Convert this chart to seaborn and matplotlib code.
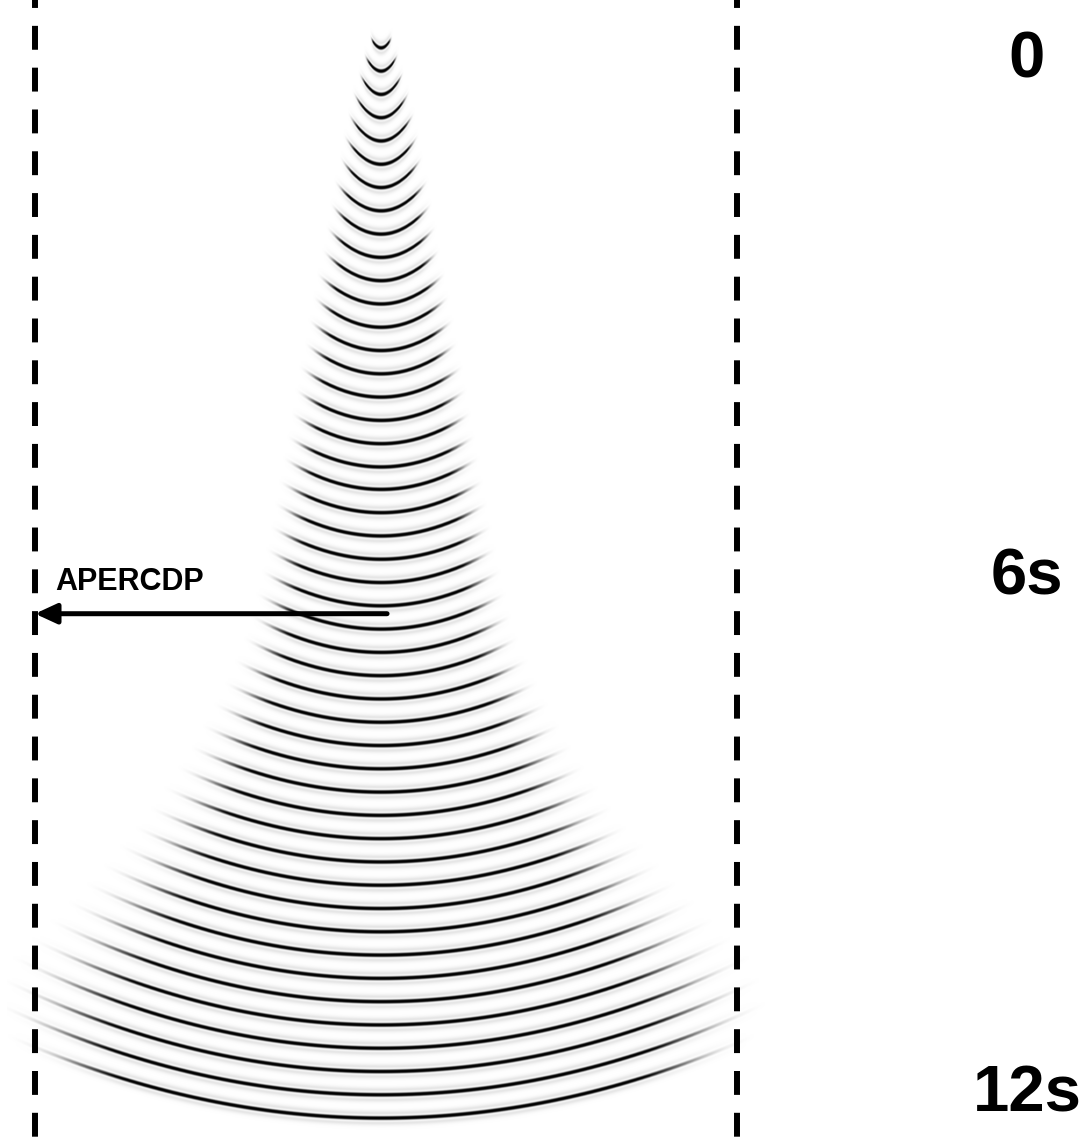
import numpy as np
import matplotlib
matplotlib.use("Agg")
import matplotlib.pyplot as plt
import seaborn as sns

sns.set_theme(style="white")
plt.rcParams['font.family'] = ['Liberation Sans', 'DejaVu Sans']

# apex time of each impulse-response arc (s)
apex_t = [-0.14, 0.13, 0.40, 0.67, 0.94, 1.21, 1.48, 1.75, 2.02, 2.29,
          2.56, 2.83, 3.10, 3.37, 3.64, 3.91, 4.18, 4.45, 4.72, 4.98,
          5.25, 5.52, 5.79, 6.06, 6.33, 6.60, 6.87, 7.14, 7.41, 7.68,
          7.95, 8.22, 8.49, 8.76, 9.03, 9.30, 9.57, 9.84, 10.11, 10.38,
          10.65, 10.92, 11.19, 11.46, 11.73, 12.00, 12.27]
# half width of each arc (CDP)
half_width = [3.0, 4.6, 6.0, 7.6, 8.9, 10.0, 11.0, 12.5, 13.5, 14.6,
              15.6, 17.1, 18.1, 19.3, 20.3, 21.8, 22.8, 23.9, 25.0, 26.1,
              27.2, 28.3, 29.4, 30.6, 31.8, 33.2, 34.7, 36.5, 39.0, 41.6,
              44.4, 47.6, 50.7, 54.1, 57.8, 61.5, 65.5, 69.8, 74.1, 78.6,
              83.5, 88.3, 93.4, 98.3, 101.1, 102.6, 99.7]
# how much earlier the arc ends are than its apex (s)
end_rise = [0.12, 0.18, 0.23, 0.27, 0.29, 0.30, 0.31, 0.31, 0.31, 0.31,
            0.31, 0.31, 0.31, 0.31, 0.31, 0.31, 0.31, 0.31, 0.31, 0.32,
            0.32, 0.33, 0.33, 0.34, 0.35, 0.36, 0.37, 0.38, 0.39, 0.40,
            0.42, 0.44, 0.46, 0.49, 0.52, 0.55, 0.59, 0.64, 0.68, 0.73,
            0.78, 0.83, 0.88, 0.93, 0.94, 0.93, 0.84]

center_cdp = 498.5
aper_cdp = [400, 600]
time_labels = ["0", "6s", "12s"]
time_label_t = [0, 6, 12]
arrow_t = 6.42

t_top, t_bot = -0.696, 12.557
x_left, x_right = 390.03, 700.28

# build the image
cdp = np.arange(392, 608, 0.25)
t = np.arange(-0.6, 12.6, 0.004)
X, T = np.meshgrid(cdp, t)
img = np.zeros_like(X)
freq = 6.8
for t0, w, e in zip(apex_t, half_width, end_rise):
    dx = (X - center_cdp) / w
    tc = t0 - e * dx ** 2
    taper = np.clip((1.08 - np.abs(dx)) / 0.42, 0, 1)
    taper = np.sin(taper * np.pi / 2) ** 2
    arg = (np.pi * freq * (T - tc)) ** 2
    img += taper * (1 - 2 * arg) * np.exp(-arg)

shade = np.where(img > 0, img, -0.35 * img)

fig = plt.figure(figsize=(10.89, 11.43), dpi=100)
ax = fig.add_axes([0, 0, 1, 1])
ax.imshow(shade, cmap="Greys", vmin=0, vmax=0.85, aspect="auto",
          extent=[cdp[0], cdp[-1], t[-1], t[0]], interpolation="bilinear")

for xa in aper_cdp:
    ax.plot([xa, xa], [t_top, t_bot], color="black", lw=4.3,
            linestyle=(2.67, (4, 3)), solid_capstyle="butt")

ax.annotate("", xy=(aper_cdp[0], arrow_t), xytext=(500.3, arrow_t),
            arrowprops=dict(arrowstyle="-|>,head_length=0.65,head_width=0.3",
                            lw=3.6, color="black", mutation_scale=20,
                            shrinkA=0, shrinkB=0))
ax.text(405.7, 6.145, "APERCDP", fontsize=22, fontweight="bold",
        ha="left", va="baseline", color="black")

for lab, tt in zip(time_labels, time_label_t):
    ax.text(682.6, tt, lab, fontsize=47, fontweight="bold",
            ha="center", va="center", color="black")

ax.set_xlim(x_left, x_right)
ax.set_ylim(t_bot, t_top)
ax.axis("off")

fig.savefig("out.png", dpi=100, facecolor="white")
